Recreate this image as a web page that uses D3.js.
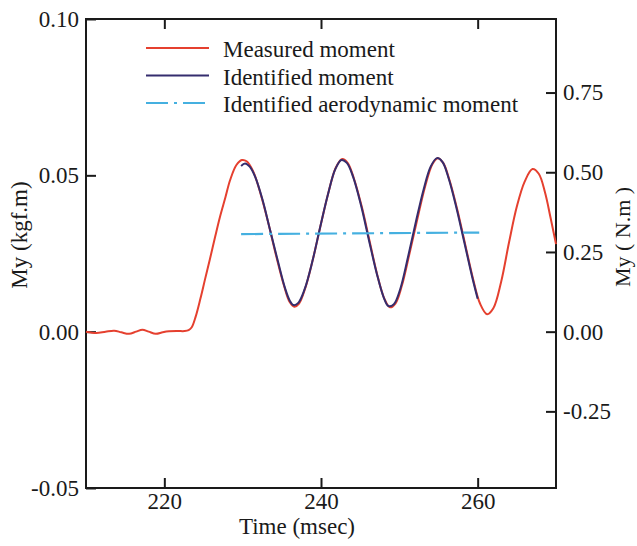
<!DOCTYPE html>
<html>
<head>
<meta charset="utf-8">
<script src="https://cdn.jsdelivr.net/npm/d3@7"></script>
<style>
  body { margin: 0; background: #fff; }
  text { font-family: "Liberation Serif", "Times New Roman", serif; fill: #1a1a1a; }
</style>
</head>
<body>
<svg width="637" height="546"></svg>
<script>
// Measured moment (red) : [time msec, My kgf.m]
var measured = [
  [210.0, 0.0000], [211.3, -0.0004], [212.5, 0.0000], [213.6, 0.0003], [214.5, -0.0002],
  [215.5, -0.0007], [216.4, 0.0000], [217.2, 0.0006], [218.0, 0.0000], [218.9, -0.0007],
  [219.8, -0.0002], [220.6, 0.0001], [221.7, 0.0002], [222.6, 0.0002], [223.1, 0.0005],
  [223.5, 0.0014], [224.0, 0.0048], [224.6, 0.0105], [225.2, 0.0168], [225.8, 0.0230],
  [226.5, 0.0305], [227.1, 0.0367], [227.8, 0.0430], [228.4, 0.0485],
  [229.2, 0.0533], [229.9, 0.0549], [230.5, 0.0545], [231.3, 0.0515], [232.3, 0.0440],
  [233.3, 0.0345], [234.3, 0.0240], [235.3, 0.0145], [236.0, 0.0095], [236.6, 0.0080],
  [237.2, 0.0090], [238.0, 0.0140], [239.0, 0.0235], [240.0, 0.0345], [241.0, 0.0450],
  [241.9, 0.0525], [242.7, 0.0552], [243.4, 0.0540], [244.2, 0.0490], [245.2, 0.0400],
  [246.2, 0.0290], [247.2, 0.0180], [248.1, 0.0105], [248.8, 0.0078], [249.5, 0.0090],
  [250.3, 0.0145], [251.3, 0.0250], [252.3, 0.0360], [253.3, 0.0465], [254.2, 0.0535],
  [254.9, 0.0555], [255.6, 0.0540], [256.4, 0.0485], [257.4, 0.0390], [258.4, 0.0280],
  [259.4, 0.0170], [260.3, 0.0090], [261.2, 0.0056], [262.0, 0.0075], [263.0, 0.0160],
  [264.0, 0.0285], [265.0, 0.0400], [266.0, 0.0480], [267.0, 0.0520], [267.8, 0.0505],
  [268.6, 0.0445], [269.3, 0.0365], [270.0, 0.0280]
];

// Identified moment (navy)
var identified = [
  [229.8, 0.0530], [230.3, 0.0538], [230.9, 0.0528], [231.6, 0.0495], [232.5, 0.0425],
  [233.5, 0.0325], [234.5, 0.0225], [235.4, 0.0140], [236.0, 0.0100], [236.5, 0.0085],
  [237.1, 0.0092], [237.9, 0.0135], [238.9, 0.0225], [239.9, 0.0335], [240.9, 0.0440],
  [241.8, 0.0518], [242.6, 0.0549], [243.3, 0.0540], [244.1, 0.0495], [245.1, 0.0405],
  [246.1, 0.0295], [247.1, 0.0188], [248.0, 0.0110], [248.6, 0.0082], [249.3, 0.0088],
  [250.1, 0.0135], [251.1, 0.0238], [252.1, 0.0350], [253.1, 0.0455], [254.0, 0.0528],
  [254.8, 0.0555], [255.5, 0.0543], [256.3, 0.0490], [257.3, 0.0395], [258.3, 0.0285],
  [259.3, 0.0175], [260.0, 0.0105]
];

// Identified aerodynamic moment (cyan, dash-dot)
var aero = [[229.8, 0.0312], [260.2, 0.0317]];

var xTicks = [220, 240, 260];
var yLeftTicks = [-0.05, 0.00, 0.05, 0.10];
var yRightTicks = [-0.25, 0.00, 0.25, 0.50, 0.75];
var legendLabels = ['Measured moment', 'Identified moment', 'Identified aerodynamic moment'];

var G = 9.80665; // kgf -> N

var svg = d3.select('svg');
var plot = {left: 86, right: 556, top: 19, bottom: 488};

var x = d3.scaleLinear().domain([210, 270]).range([plot.left, plot.right]);
var y = d3.scaleLinear().domain([-0.05, 0.10]).range([plot.bottom, plot.top]);
var yR = d3.scaleLinear().domain([-0.05 * G, 0.10 * G]).range([plot.bottom, plot.top]);

var fmt = function(d) { return d.toFixed(2); };

// axes (ticks inward)
var gB = svg.append('g')
  .attr('transform', 'translate(0,' + plot.bottom + ')')
  .call(d3.axisBottom(x).tickValues(xTicks).tickSizeInner(-10).tickSizeOuter(0).tickPadding(5));
var gT = svg.append('g')
  .attr('transform', 'translate(0,' + plot.top + ')')
  .call(d3.axisTop(x).tickValues(xTicks).tickSizeInner(-10).tickSizeOuter(0).tickFormat(''));
var gL = svg.append('g')
  .attr('transform', 'translate(' + plot.left + ',0)')
  .call(d3.axisLeft(y).tickValues(yLeftTicks).tickSizeInner(-10).tickSizeOuter(0).tickPadding(7).tickFormat(fmt));
var gR = svg.append('g')
  .attr('transform', 'translate(' + plot.right + ',0)')
  .call(d3.axisRight(yR).tickValues(yRightTicks).tickSizeInner(-10).tickSizeOuter(0).tickPadding(7).tickFormat(fmt));

[gB, gT, gL, gR].forEach(function(g) {
  g.select('.domain').remove();
  g.selectAll('line').attr('stroke', '#1a1a1a').attr('stroke-width', 2);
  g.selectAll('text').attr('font-size', 23).attr('font-family', '"Liberation Serif", serif').attr('fill', '#1a1a1a');
});

// frame
svg.append('rect')
  .attr('x', plot.left).attr('y', plot.top)
  .attr('width', plot.right - plot.left).attr('height', plot.bottom - plot.top)
  .attr('fill', 'none').attr('stroke', '#1a1a1a').attr('stroke-width', 2);

var line = d3.line()
  .x(function(d) { return x(d[0]); })
  .y(function(d) { return y(d[1]); })
  .curve(d3.curveCatmullRom);

svg.append('path').datum(measured)
  .attr('d', line).attr('fill', 'none').attr('stroke', '#e5402f').attr('stroke-width', 2);
svg.append('path').datum(identified)
  .attr('d', line).attr('fill', 'none').attr('stroke', '#352d6e').attr('stroke-width', 2);
svg.append('path').datum(aero)
  .attr('d', line).attr('fill', 'none').attr('stroke', '#45b0e0').attr('stroke-width', 2.2)
  .attr('stroke-dasharray', '22,6,3,6');

// axis titles
svg.append('text')
  .attr('x', 297).attr('y', 534)
  .attr('text-anchor', 'middle').attr('font-size', 23)
  .text('Time (msec)');
svg.append('text')
  .attr('transform', 'translate(27,235) rotate(-90)')
  .attr('text-anchor', 'middle').attr('font-size', 23)
  .text('My (kgf.m)');
svg.append('text')
  .attr('transform', 'translate(630,237) rotate(-90)')
  .attr('text-anchor', 'middle').attr('font-size', 22)
  .text('My ( N.m )');

// legend
var legendColors = ['#e5402f', '#352d6e', '#45b0e0'];
var legendDash = [null, null, '22,6,3,6'];
var legend = svg.append('g');
legendLabels.forEach(function(lab, i) {
  var ly = 48 + i * 27.5;
  legend.append('line')
    .attr('x1', 146).attr('x2', 209).attr('y1', ly).attr('y2', ly)
    .attr('stroke', legendColors[i]).attr('stroke-width', 2)
    .attr('stroke-dasharray', legendDash[i]);
  legend.append('text')
    .attr('x', 223).attr('y', ly + 9)
    .attr('font-size', 23)
    .text(lab);
});
</script>
</body>
</html>
